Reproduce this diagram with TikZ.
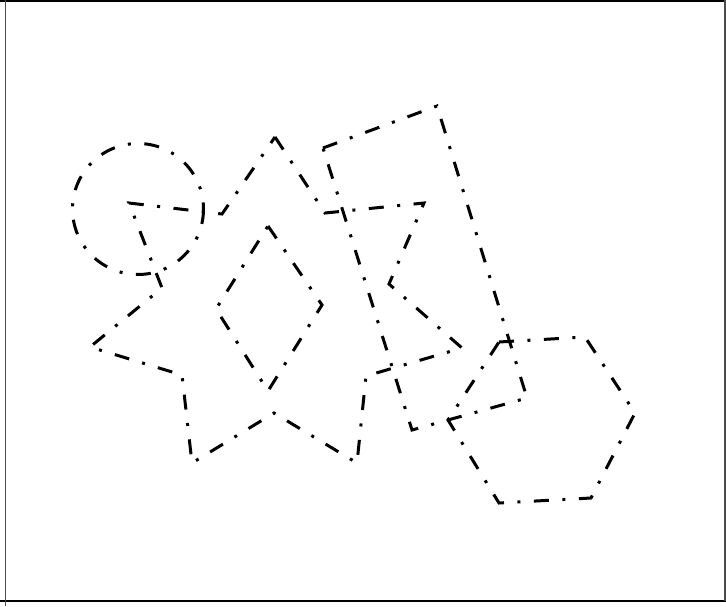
\documentclass[tikz,border=0pt]{standalone}
\begin{document}
\begin{tikzpicture}[x=1pt,y=-1pt,
  shapeline/.style={line width=3pt,line cap=butt,line join=miter,
    dash pattern=on 15pt off 13.5pt on 3pt off 13.5pt},
  frameline/.style={line width=1.3pt}]
\useasboundingbox (0,0) rectangle (726,606);
% frame
\coordinate (ftl) at (0,1); \coordinate (ftr) at (726,1);
\coordinate (fbl) at (0,601); \coordinate (fbr) at (726,601);
\coordinate (flt) at (5.5,0); \coordinate (flb) at (5.5,606);
\coordinate (frt) at (725,0); \coordinate (frb) at (725,601);
\draw[frameline] (ftl) -- (ftr);
\draw[frameline] (fbl) -- (fbr);
\draw[frameline,black!70] (flt) -- (flb);
\draw[frameline,black!70] (frt) -- (frb);
% circle
\coordinate (cc) at (138,209);
\draw[shapeline] (cc) circle[radius=65.5];
% seven-pointed star
\draw[shapeline] (275,137) -- (325,213) -- (424,203) -- (389,284) -- (462,348)
  -- (366,376) -- (357,463) -- (274,413) -- (192,463) -- (182,375)
  -- (90,347) -- (162,288) -- (129,203) -- (222,214) -- cycle;
% rotated rectangle
\draw[shapeline] (323,148) -- (437,106) -- (527,398) -- (412,430) -- cycle;
% diamond
\draw[shapeline] (268,226) -- (322,305) -- (268,391) -- (216,309) -- cycle;
% hexagon
\draw[shapeline] (499,342) -- (585,337) -- (635,413) -- (591,498) -- (499,503) -- (448,420) -- cycle;
\end{tikzpicture}
\end{document}
